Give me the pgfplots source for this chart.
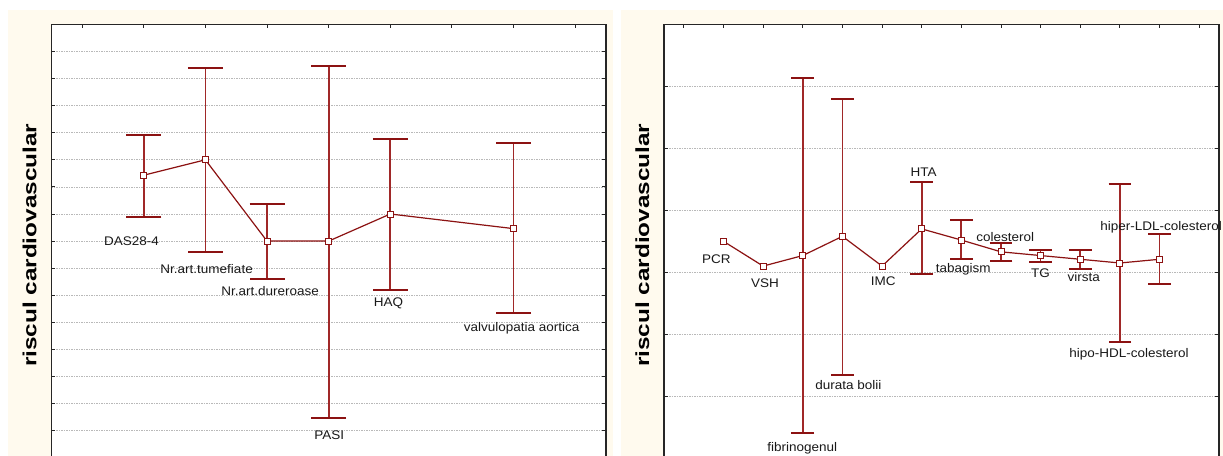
\documentclass[border=0pt]{standalone}
\usepackage{graphicx}
\usepackage{fontspec}
\setmainfont{Liberation Sans}
\newfontfamily\labfont[FakeStretch=1.08]{Liberation Sans}
\usepackage{pgfplots}
\pgfplotsset{compat=1.18}
\definecolor{dred}{RGB}{140,18,18}
\definecolor{bred}{RGB}{160,40,40}
\definecolor{cream}{RGB}{255,250,238}
\tikzset{lab/.style={anchor=base, inner sep=0pt, font={\labfont\fontsize{12.5}{14}\selectfont}, text=black!90}}
\pgfplotsset{panel/.style={
  scale only axis, anchor=north west, clip=false,
  axis background/.style={fill=white},
  axis line style={line width=1.3pt, black!85},
  xticklabels={}, yticklabels={},
  tick align=inside, major tick length=4pt,
  tick style={black!85, line width=0.9pt},
  ymajorgrids, grid style={gray!55, line width=0.7pt, dash pattern=on 1.5pt off 1pt},
  ylabel={\fontsize{24.3}{28}\selectfont\bfseries\scalebox{1}[0.78]{riscul cardiovascular}},
  ylabel style={anchor=base},
  every error bar/.append style={color=bred, draw=bred, line width=1.7pt},
}}
\begin{document}
\begin{tikzpicture}
\path[use as bounding box] (0,0) rectangle (1223pt,455pt);
\fill[cream] (7.7pt,-5pt) rectangle (613.3pt,445pt);
\fill[cream] (621pt,-5pt) rectangle (1230pt,445pt);
% ---------------- left panel
\begin{axis}[panel,
  at={(51.3pt,430.7pt)}, width=554.7pt, height=447.15pt,
  xmin=-0.5, xmax=8.5, ymin=-0.5, ymax=16,
  xtick={0,...,8}, ytick={1,...,15},
  ylabel style={at={(axis description cs:-0.0267,0.5057)}}]
\addplot[color=bred, line width=1.7pt, only marks, mark=none,
  error bars/.cd, y dir=both, y explicit,
  error bar style={color=bred, line width=1.7pt},
  error mark options={rotate=90, color=dred, line width=2pt, mark size=17.5pt}]
  coordinates {
  (1,10.43) += (0,1.49) -= (0,1.53)
  (2,11.00) += (0,3.39) -= (0,3.41)
  (3,8.00) += (0,1.38) -= (0,1.40)
  (4,8.00) += (0,6.47) -= (0,6.52)
  (5,9.00) += (0,2.77) -= (0,2.79)
  (7,8.46) += (0,3.16) -= (0,3.10)
  };
\addplot[dred, line width=1.2pt, mark=square*,
  mark options={fill=white, draw=dred, line width=0.9pt}, mark size=3pt]
  coordinates {(1,10.43)(2,11.00)(3,8.00)(4,8.00)(5,9.00)(7,8.46)};
\node[lab] at (axis cs:0.80,7.85) {DAS28-4};
\node[lab] at (axis cs:2.02,6.82) {Nr.art.tumefiate};
\node[lab] at (axis cs:3.05,6.01) {Nr.art.dureroase};
\node[lab] at (axis cs:4.01,0.68) {PASI};
\node[lab] at (axis cs:4.97,5.57) {HAQ};
\node[lab] at (axis cs:7.13,4.66) {valvulopatia aortica};
\end{axis}
% ---------------- right panel
\begin{axis}[panel,
  at={(664pt,430.7pt)}, width=555pt, height=465pt,
  xmin=-0.5, xmax=13.5, ymin=-0.5, ymax=7,
  xtick={0,...,13}, ytick={1,...,6},
  ylabel style={at={(axis description cs:-0.027,0.5247)}}]
\addplot[color=bred, line width=1.7pt, only marks, mark=none,
  error bars/.cd, y dir=both, y explicit,
  error bar style={color=bred, line width=1.7pt},
  error mark options={rotate=90, color=dred, line width=2pt, mark size=11.3pt}]
  coordinates {
  (3,3.27) += (0,2.86) -= (0,2.86)
  (4,3.58) += (0,2.22) -= (0,2.24)
  (6,3.70) += (0,0.76) -= (0,0.73)
  (7,3.52) += (0,0.32) -= (0,0.31)
  (8,3.33) += (0,0.15) -= (0,0.14)
  (9,3.27) += (0,0.09) -= (0,0.10)
  (10,3.21) += (0,0.15) -= (0,0.15)
  (11,3.15) += (0,1.27) -= (0,1.27)
  (12,3.21) += (0,0.40) -= (0,0.40)
  };
\addplot[dred, line width=1.2pt, mark=square*,
  mark options={fill=white, draw=dred, line width=0.9pt}, mark size=3pt]
  coordinates {(1,3.50)(2,3.10)(3,3.27)(4,3.58)(5,3.10)(6,3.70)(7,3.52)(8,3.33)(9,3.27)(10,3.21)(11,3.15)(12,3.21)};
\node[lab] at (axis cs:0.82,3.14) {PCR};
\node[lab] at (axis cs:2.05,2.76) {VSH};
\node[lab] at (axis cs:2.99,0.11) {fibrinogenul};
\node[lab] at (axis cs:4.15,1.11) {durata bolii};
\node[lab] at (axis cs:5.03,2.79) {IMC};
\node[lab] at (axis cs:6.05,4.55) {HTA};
\node[lab] at (axis cs:7.05,3.00) {tabagism};
\node[lab] at (axis cs:8.11,3.50) {colesterol};
\node[lab] at (axis cs:9.00,2.92) {TG};
\node[lab] at (axis cs:10.09,2.85) {virsta};
\node[lab] at (axis cs:11.23,1.62) {hipo-HDL-colesterol};
\node[lab, anchor=base west] at (axis cs:10.50,3.68) {hiper-LDL-colesterol};
\end{axis}
\end{tikzpicture}
\end{document}
